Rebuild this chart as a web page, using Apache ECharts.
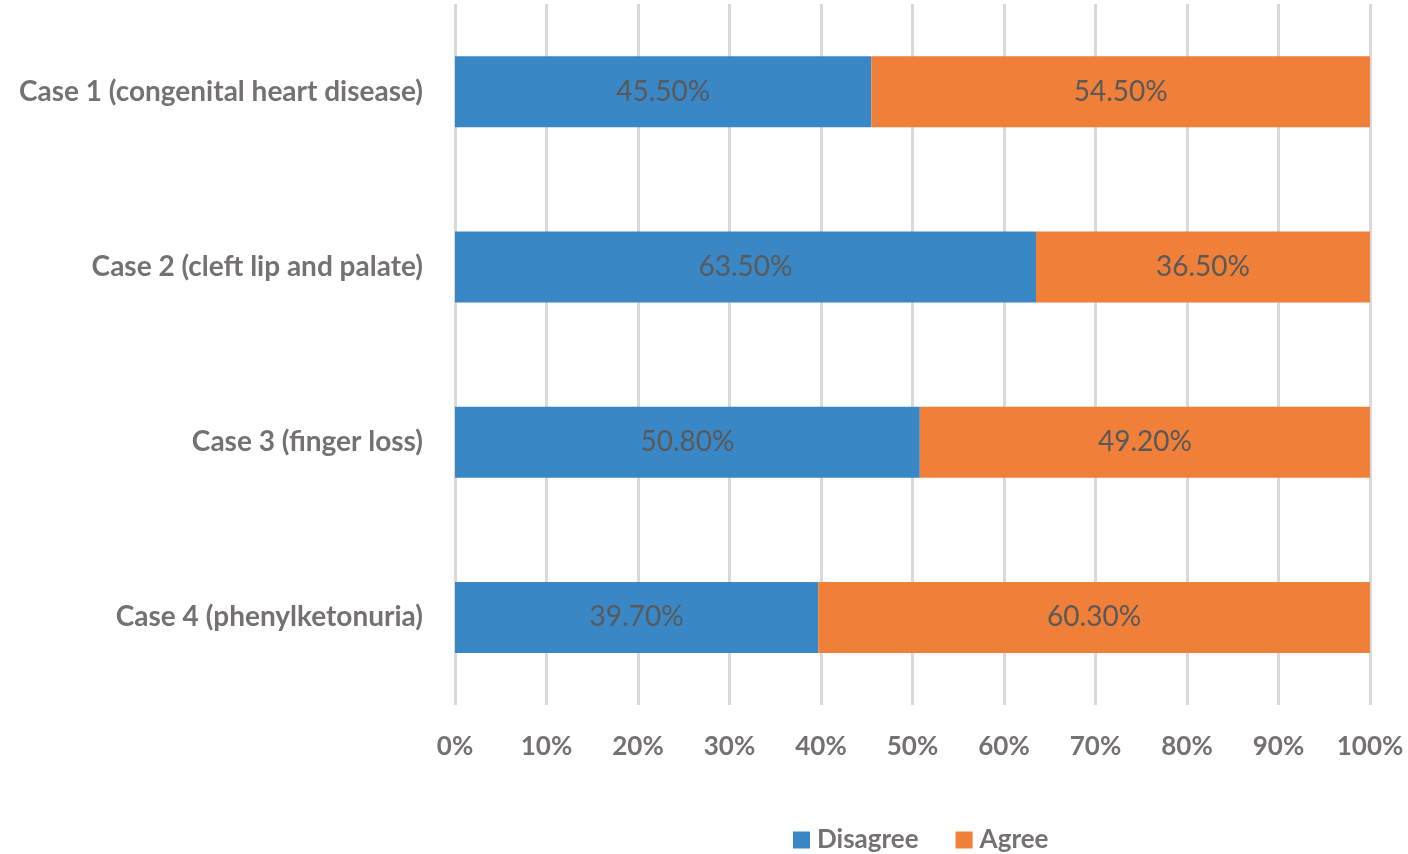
<!DOCTYPE html>
<html>
<head>
<meta charset="utf-8">
<script src="https://cdn.jsdelivr.net/npm/echarts@6/dist/echarts.min.js"></script>
<style>
  html, body { margin: 0; padding: 0; background: #fff; }
  #chart { width: 1408px; height: 854px; }
</style>
</head>
<body>
<div id="chart"></div>
<script>
var cases = ['Case 1 (congenital heart disease)', 'Case 2 (cleft lip and palate)', 'Case 3 (finger loss)', 'Case 4 (phenylketonuria)'];
var disagree = [45.5, 63.5, 50.8, 39.7];
var agree = [54.5, 36.5, 49.2, 60.3];

var textColor = '#767171';
var fontFamily = 'Lato, "Open Sans", sans-serif';

var myChart = echarts.init(document.getElementById('chart'));

var labelOpt = {
    show: true,
    position: 'inside',
    color: '#595959',
    fontSize: 28,
    fontFamily: fontFamily,
    formatter: function (p) { return p.value.toFixed(2) + '%'; }
};

var option = {
    animation: false,
    color: ['#3A87C5', '#EF7F39'],
    grid: { left: 455, right: 38, top: 4, bottom: 149, containLabel: false },
    legend: {
        top: 822,
        left: 788,
        itemWidth: 17,
        itemHeight: 17,
        itemGap: 37,
        icon: 'rect',
        textStyle: { color: textColor, fontSize: 26, fontWeight: 'bold', fontFamily: fontFamily, padding: [0, 0, 0, 2] },
        data: ['Disagree', 'Agree']
    },
    xAxis: {
        type: 'value',
        min: 0,
        max: 100,
        interval: 10,
        axisLine: { show: false },
        axisTick: { show: false },
        axisLabel: {
            formatter: '{value}%',
            color: textColor,
            fontSize: 26,
            fontWeight: 'bold',
            fontFamily: fontFamily,
            margin: 29
        },
        splitLine: { lineStyle: { color: '#D9D9D9', width: 3 } }
    },
    yAxis: {
        type: 'category',
        inverse: true,
        data: cases,
        axisLine: { show: false },
        axisTick: { show: false },
        axisLabel: {
            color: textColor,
            fontSize: 28,
            fontWeight: 'bold',
            fontFamily: fontFamily,
            margin: 32
        }
    },
    series: [
        {
            name: 'Disagree',
            type: 'bar',
            stack: 'total',
            barWidth: 71,
            label: labelOpt,
            data: disagree
        },
        {
            name: 'Agree',
            type: 'bar',
            stack: 'total',
            barWidth: 71,
            label: labelOpt,
            data: agree
        }
    ]
};

myChart.setOption(option, true);
window.addEventListener('resize', function () {
    myChart.resize();
});
</script>
</body>
</html>
